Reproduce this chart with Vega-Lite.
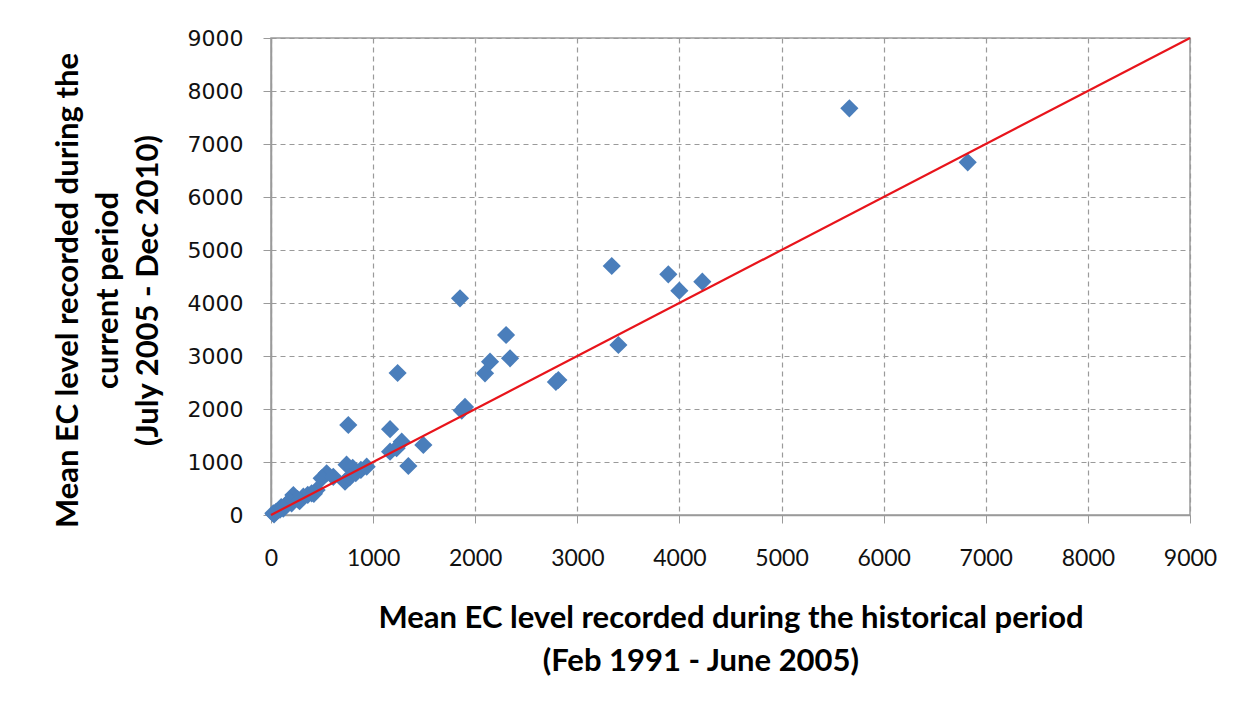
{
  "$schema": "https://vega.github.io/schema/vega-lite/v6.json",
  "autosize": "none",
  "width": 919,
  "height": 477,
  "padding": {"left": 271, "top": 38, "right": 58, "bottom": 196},
  "background": "white",
  "config": {
    "view": {"stroke": "#9a9a9a", "strokeWidth": 1.5},
    "axis": {
      "gridColor": "#9a9a9a",
      "gridDash": [5, 4],
      "gridWidth": 1.2,
      "domainColor": "#9a9a9a",
      "domainWidth": 1.5,
      "tickColor": "#9a9a9a",
      "tickSize": 8,
      "labelColor": "#111",
      "labelFlush": false,
      "labelOverlap": false,
      "titleColor": "#000",
      "titleFont": "Lato",
      "titleFontWeight": "bold",
      "titleFontSize": 31
    }
  },
  "datasets": {
    "points": [
      {"historical": 5664, "current": 7673},
      {"historical": 6823, "current": 6654},
      {"historical": 3337, "current": 4698},
      {"historical": 3891, "current": 4541},
      {"historical": 3999, "current": 4232},
      {"historical": 4224, "current": 4402},
      {"historical": 3402, "current": 3208},
      {"historical": 2814, "current": 2547},
      {"historical": 2790, "current": 2510},
      {"historical": 1851, "current": 4088},
      {"historical": 2302, "current": 3396},
      {"historical": 2341, "current": 2956},
      {"historical": 2145, "current": 2893},
      {"historical": 2096, "current": 2673},
      {"historical": 1868, "current": 1970},
      {"historical": 1900, "current": 2040},
      {"historical": 1240, "current": 2680},
      {"historical": 757, "current": 1698},
      {"historical": 1166, "current": 1620},
      {"historical": 1280, "current": 1383},
      {"historical": 1166, "current": 1195},
      {"historical": 1230, "current": 1260},
      {"historical": 1492, "current": 1321},
      {"historical": 1345, "current": 925},
      {"historical": 740, "current": 950},
      {"historical": 800, "current": 890},
      {"historical": 725, "current": 629},
      {"historical": 770, "current": 710},
      {"historical": 830, "current": 790},
      {"historical": 880, "current": 850},
      {"historical": 937, "current": 912},
      {"historical": 545, "current": 786},
      {"historical": 496, "current": 692},
      {"historical": 610, "current": 720},
      {"historical": 447, "current": 472},
      {"historical": 398, "current": 409},
      {"historical": 360, "current": 380},
      {"historical": 317, "current": 346},
      {"historical": 219, "current": 377},
      {"historical": 202, "current": 220},
      {"historical": 260, "current": 300},
      {"historical": 150, "current": 200},
      {"historical": 180, "current": 260},
      {"historical": 100, "current": 150},
      {"historical": 88, "current": 100},
      {"historical": 50, "current": 60},
      {"historical": 23, "current": 32},
      {"historical": 30, "current": 10},
      {"historical": 120, "current": 120},
      {"historical": 280, "current": 260},
      {"historical": 420, "current": 400}
    ],
    "line": [
      {"historical": 0, "current": 0},
      {"historical": 9000, "current": 9000}
    ]
  },
  "layer": [
    {
      "data": {"name": "points"},
      "mark": {"type": "point", "shape": "diamond", "filled": true, "size": 330, "color": "#4A7EBB", "opacity": 1},
      "encoding": {
        "x": {
          "field": "historical", "type": "quantitative",
          "scale": {"domain": [0, 9000], "nice": false, "zero": true},
          "axis": {
            "values": [0, 1000, 2000, 3000, 4000, 5000, 6000, 7000, 8000, 9000],
            "format": "d",
            "labelFont": "Lato",
            "labelFontSize": 23,
            "labelPadding": 24,
            "labelBaseline": "top",
            "title": ["Mean EC level recorded during the historical period", "(Feb 1991 - June 2005)\u00a0\u00a0\u00a0\u00a0\u00a0\u00a0\u00a0\u00a0\u200b"],
            "titleLineHeight": 43,
            "titleBaseline": "alphabetic",
            "titleAnchor": "middle",
            "titleY": 112
          }
        },
        "y": {
          "field": "current", "type": "quantitative",
          "scale": {"domain": [0, 9000], "nice": false, "zero": true},
          "axis": {
            "values": [0, 1000, 2000, 3000, 4000, 5000, 6000, 7000, 8000, 9000],
            "format": "d",
            "labelFont": "DejaVu Sans",
            "labelFontSize": 22,
            "labelPadding": 20,
            "title": ["Mean EC level recorded during the", "current period", "(July 2005 - Dec 2010)"],
            "titleLineHeight": 40,
            "titleAngle": -90,
            "titleBaseline": "alphabetic",
            "titleAlign": "center",
            "titleX": -194,
            "titleY": 252
          }
        }
      }
    },
    {
      "data": {"name": "line"},
      "mark": {"type": "line", "color": "#E8141B", "strokeWidth": 2.2},
      "encoding": {
        "x": {"field": "historical", "type": "quantitative"},
        "y": {"field": "current", "type": "quantitative"}
      }
    }
  ]
}
